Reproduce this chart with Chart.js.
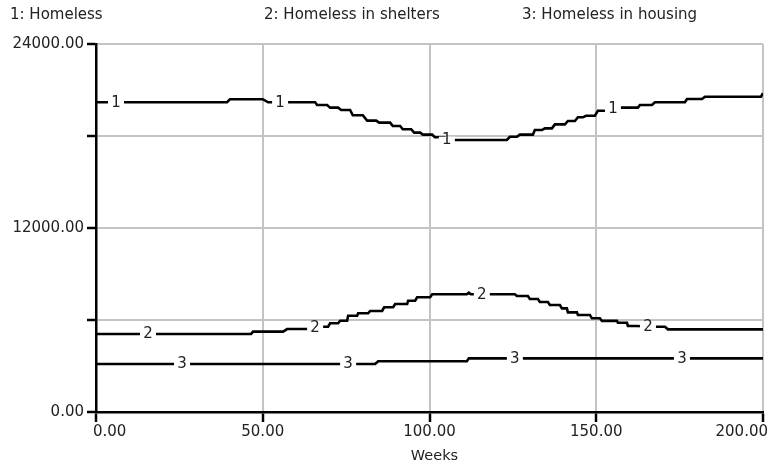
<!DOCTYPE html>
<html>
<head>
<meta charset="utf-8">
<script src="https://cdn.jsdelivr.net/npm/chart.js@4.4.1/dist/chart.umd.min.js"></script>
<style>
  html, body { margin: 0; padding: 0; background: #fff; }
  #wrap { position: relative; width: 772px; height: 464px; }
  canvas { position: absolute; left: 0; top: 0; }
  .lg { position: absolute; top: 5px; font-family: "DejaVu Sans", sans-serif; font-size: 15px; color: #222; white-space: nowrap; line-height: 18px; }
</style>
</head>
<body>
<div id="wrap">
  <canvas id="c" width="772" height="464"></canvas>
  <div class="lg" style="left:10px">1: Homeless</div>
  <div class="lg" style="left:264px">2: Homeless in shelters</div>
  <div class="lg" style="left:522px">3: Homeless in housing</div>
</div>
<script>
// ---- data (week, value) ----
const seriesNames = ["Homeless", "Homeless in shelters", "Homeless in housing"];

const weeks1 = [0, 39.3, 40.2, 50, 51.6, 65.7, 66.3, 69.3, 70.2, 72.6, 73.5, 76.2, 77, 80, 81.3, 84, 84.9, 88.2, 89, 91.2, 92, 94.5, 95.4, 97.2, 98, 100.8, 101.6, 104.5, 105.3, 123.2, 124.1, 126.2, 127.1, 131, 131.6, 133.7, 134.6, 136.7, 137.6, 140.6, 141.5, 143.6, 144.5, 146, 146.9, 149.6, 150.5, 153.2, 156.5, 162.5, 163.1, 166.7, 167.6, 176.6, 177.2, 181.7, 182.6, 199.4, 200];
const homeless = [20200, 20200, 20400, 20400, 20200, 20200, 20020, 20020, 19850, 19850, 19700, 19700, 19350, 19350, 19000, 19000, 18870, 18870, 18650, 18650, 18440, 18440, 18220, 18220, 18090, 18090, 17920, 17920, 17740, 17740, 17950, 17950, 18090, 18090, 18390, 18390, 18500, 18500, 18760, 18760, 18980, 18980, 19220, 19220, 19320, 19320, 19650, 19650, 19850, 19850, 20020, 20020, 20200, 20200, 20410, 20410, 20560, 20560, 20790];

const weeks2 = [0, 46.5, 47.1, 56.1, 57.3, 64.5, 66.6, 69.6, 70.2, 72.6, 73.2, 75.3, 75.6, 78.3, 78.6, 81.6, 82.2, 85.8, 86.4, 89.1, 89.7, 93.3, 93.6, 95.7, 96.3, 100.2, 100.8, 111.2, 111.8, 112.4, 125.6, 126.2, 129.5, 130.1, 132.5, 133.1, 135.5, 136.1, 139.1, 139.7, 141.2, 141.5, 144.2, 144.5, 148.1, 148.7, 151.1, 151.7, 156.2, 156.5, 159.2, 159.5, 162.2, 167, 170.6, 171.5, 200];
const shelters = [5090, 5090, 5240, 5240, 5410, 5410, 5560, 5560, 5790, 5790, 5950, 5950, 6280, 6280, 6440, 6440, 6590, 6590, 6830, 6830, 7040, 7040, 7260, 7260, 7480, 7480, 7680, 7680, 7780, 7680, 7680, 7570, 7570, 7370, 7370, 7170, 7170, 6980, 6980, 6760, 6760, 6500, 6500, 6330, 6330, 6110, 6110, 5940, 5940, 5820, 5820, 5610, 5610, 5560, 5560, 5390, 5390];

const weeks3 = [0, 83.7, 84.6, 111.2, 111.8, 200];
const housing = [3130, 3130, 3310, 3310, 3500, 3500];

// positions (in weeks) of the numbered markers along each line
const markerWeeks1 = [6, 55.2, 105.2, 155];
const markerWeeks2 = [15.6, 65.7, 115.7, 165.5];
const markerWeeks3 = [25.8, 75.6, 125.6, 175.7];

const xTicks = [0, 50, 100, 150, 200];
const yLabelled = [0, 12000, 24000];
const xTitle = "Weeks";

// ---- chart ----
const FONT = '"DejaVu Sans", sans-serif';
const GRID = '#c4c4c4';
function pts(ws, vs) { return ws.map((w, i) => ({ x: w, y: vs[i] })); }
const markerSets = [markerWeeks1, markerWeeks2, markerWeeks3];

function valueAt(data, w) {
  for (let i = 1; i < data.length; i++) {
    if (w <= data[i].x) {
      const a = data[i - 1], b = data[i];
      const t = (w - a.x) / (b.x - a.x || 1);
      return a.y + t * (b.y - a.y);
    }
  }
  return data[data.length - 1].y;
}

const decor = {
  id: 'decor',
  afterDatasetsDraw(chart) {
    const ctx = chart.ctx, xs = chart.scales.x, ys = chart.scales.y;
    ctx.save();
    ctx.font = '15px ' + FONT;
    ctx.textAlign = 'center';
    ctx.textBaseline = 'middle';
    chart.data.datasets.forEach((ds, i) => {
      markerSets[i].forEach(w => {
        const px = xs.getPixelForValue(w);
        const py = ys.getPixelForValue(valueAt(ds.data, w));
        ctx.fillStyle = '#fff';
        ctx.fillRect(px - 8, py - 3, 16, 6);
        ctx.fillStyle = '#222';
        ctx.fillText(String(i + 1), px, py + 0.5);
      });
    });
    ctx.restore();
  },
  afterDraw(chart) {
    const ctx = chart.ctx, xs = chart.scales.x, ca = chart.chartArea;
    ctx.save();
    ctx.font = '15px ' + FONT;
    ctx.fillStyle = '#222';
    ctx.textBaseline = 'middle';
    ctx.textAlign = 'left';
    xTicks.forEach(t => {
      const s = t.toFixed(2);
      const wdt = ctx.measureText(s).width;
      let left = xs.getPixelForValue(t) - wdt / 2;
      left = Math.max(left, ca.left - 3);
      left = Math.min(left, ca.right + 5 - wdt);
      ctx.fillText(s, left, 432);
    });
    ctx.font = '14.5px ' + FONT;
    ctx.textAlign = 'center';
    ctx.fillText(xTitle, (ca.left + ca.right) / 2 + 5, 456);
    ctx.restore();
  }
};

new Chart(document.getElementById('c'), {
  type: 'line',
  data: {
    datasets: [
      { label: seriesNames[0], data: pts(weeks1, homeless) },
      { label: seriesNames[1], data: pts(weeks2, shelters) },
      { label: seriesNames[2], data: pts(weeks3, housing) }
    ].map(d => Object.assign(d, { borderColor: '#000', borderWidth: 2.6, pointRadius: 0, tension: 0, fill: false }))
  },
  options: {
    responsive: false,
    animation: false,
    devicePixelRatio: 1,
    layout: { padding: { top: 44, right: 9, left: 0, bottom: 0 } },
    plugins: { legend: { display: false }, tooltip: { enabled: false }, title: { display: false } },
    scales: {
      x: {
        type: 'linear', min: 0, max: 200,
        afterBuildTicks: s => { s.ticks = xTicks.map(v => ({ value: v })); },
        ticks: { display: false },
        grid: { color: GRID, lineWidth: 2, tickColor: '#000', tickLength: 10, tickWidth: 2.5, drawTicks: true },
        border: { color: '#000', width: 2.5 },
        afterFit: s => { s.height = 52; }
      },
      y: {
        min: 0, max: 24000,
        ticks: {
          stepSize: 6000, padding: 3, color: '#222',
          font: { family: FONT, size: 15 },
          callback: v => yLabelled.includes(v) ? v.toFixed(2) : ''
        },
        grid: { color: GRID, lineWidth: 2, tickColor: '#000', tickLength: 9, tickWidth: 2.5, drawTicks: true },
        border: { color: '#000', width: 2.5 },
        afterFit: s => { s.width = 96; }
      }
    }
  },
  plugins: [decor]
});
</script>
</body>
</html>
